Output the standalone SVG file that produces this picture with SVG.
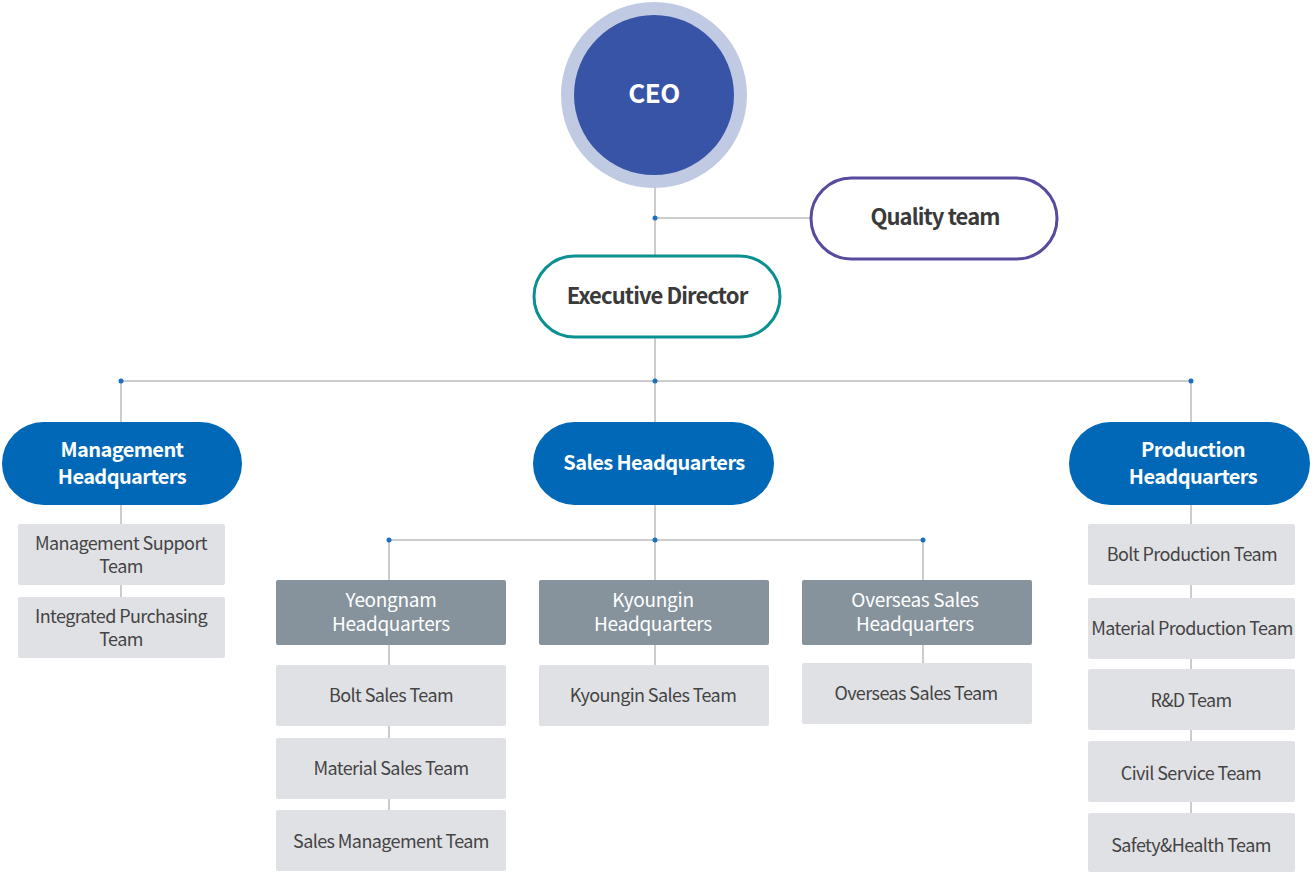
<svg xmlns="http://www.w3.org/2000/svg" width="1312" height="872" viewBox="0 0 1312 872">
<style>
text{font-family:"Noto Sans CJK KR","Noto Sans",sans-serif;text-anchor:middle;letter-spacing:-0.6px}
.ln{stroke:#9a9a9a;stroke-width:1;fill:none}
.dot{fill:#1a6fc0}
.pill{fill:#0068b7}
.pt{fill:#fff;font-size:20px;font-weight:bold}
.gh{fill:#86939c}
.ght{fill:#fff;font-size:19px;letter-spacing:-0.3px}
.sb{fill:#e0e1e5}
.sbt{fill:#444;font-size:18px;letter-spacing:-0.6px}
.ot{fill:#3a3a3a;font-size:22px;font-weight:bold;letter-spacing:-0.9px}
</style>
<rect width="1312" height="872" fill="#fff"/>
<g id="connectors">
<line class="ln" x1="655" y1="180" x2="655" y2="256"/>
<line class="ln" x1="655" y1="218" x2="810" y2="218"/>
<line class="ln" x1="655" y1="337" x2="655" y2="422"/>
<line class="ln" x1="121" y1="381" x2="1191" y2="381"/>
<line class="ln" x1="121" y1="381" x2="121" y2="422"/>
<line class="ln" x1="1191" y1="381" x2="1191" y2="422"/>
<line class="ln" x1="121" y1="505" x2="121" y2="597"/>
<line class="ln" x1="655" y1="505" x2="655" y2="540"/>
<line class="ln" x1="389" y1="540" x2="923" y2="540"/>
<line class="ln" x1="389" y1="540" x2="389" y2="810"/>
<line class="ln" x1="655" y1="540" x2="655" y2="665"/>
<line class="ln" x1="923" y1="540" x2="923" y2="663"/>
<line class="ln" x1="1191" y1="505" x2="1191" y2="813"/>
<circle class="dot" cx="655" cy="218" r="2.5"/>
<circle class="dot" cx="121" cy="381" r="2.5"/>
<circle class="dot" cx="655" cy="381" r="2.5"/>
<circle class="dot" cx="1191" cy="381" r="2.5"/>
<circle class="dot" cx="389" cy="540" r="2.5"/>
<circle class="dot" cx="655" cy="540" r="2.5"/>
<circle class="dot" cx="923" cy="540" r="2.5"/>
</g>
<g id="ceo">
<circle cx="654" cy="95" r="93" fill="#c1cae3"/>
<circle cx="654" cy="95" r="80" fill="#3754a7"/>
<text x="654" y="103" fill="#fff" font-size="26" font-weight="bold">CEO</text>
</g>
<g id="quality">
<rect x="811" y="178" width="246" height="81" rx="40.5" fill="#fff" stroke="#574b9d" stroke-width="3"/>
<text class="ot" x="935" y="225">Quality team</text>
</g>
<g id="executive">
<rect x="534" y="256" width="246" height="81" rx="40.5" fill="#fff" stroke="#0c8f91" stroke-width="3"/>
<text class="ot" x="657" y="304">Executive Director</text>
</g>
<g id="mgmt-hq">
<rect class="pill" x="2" y="422" width="240" height="83" rx="41.5"/>
<text class="pt" x="122" y="457"><tspan x="122">Management</tspan><tspan x="122" dy="27">Headquarters</tspan></text>
</g>
<g id="sales-hq">
<rect class="pill" x="533" y="422" width="241" height="83" rx="41.5"/>
<text class="pt" x="654" y="470">Sales Headquarters</text>
</g>
<g id="prod-hq">
<rect class="pill" x="1069" y="422" width="241" height="83" rx="41.5"/>
<text class="pt" x="1193" y="457"><tspan x="1193">Production</tspan><tspan x="1193" dy="27">Headquarters</tspan></text>
</g>
<g id="mgmt-support">
<rect class="sb" x="18" y="524" width="207" height="61" rx="2"/>
<text class="sbt" x="121" y="550"><tspan x="121">Management Support</tspan><tspan x="121" dy="23">Team</tspan></text>
</g>
<g id="purchasing">
<rect class="sb" x="18" y="597" width="207" height="61" rx="2"/>
<text class="sbt" x="121" y="623"><tspan x="121">Integrated Purchasing</tspan><tspan x="121" dy="23">Team</tspan></text>
</g>
<g id="yeongnam-hq">
<rect class="gh" x="276" y="580" width="230" height="65" rx="2"/>
<text class="ght" x="391" y="607"><tspan x="391">Yeongnam</tspan><tspan x="391" dy="24">Headquarters</tspan></text>
</g>
<g id="kyoungin-hq">
<rect class="gh" x="539" y="580" width="230" height="65" rx="2"/>
<text class="ght" x="653" y="607"><tspan x="653">Kyoungin</tspan><tspan x="653" dy="24">Headquarters</tspan></text>
</g>
<g id="overseas-hq">
<rect class="gh" x="802" y="580" width="230" height="65" rx="2"/>
<text class="ght" x="915" y="607"><tspan x="915">Overseas Sales</tspan><tspan x="915" dy="24">Headquarters</tspan></text>
</g>
<g id="bolt-sales">
<rect class="sb" x="276" y="665" width="230" height="61" rx="2"/>
<text class="sbt" x="391" y="702">Bolt Sales Team</text>
</g>
<g id="material-sales">
<rect class="sb" x="276" y="738" width="230" height="61" rx="2"/>
<text class="sbt" x="391" y="775">Material Sales Team</text>
</g>
<g id="sales-mgmt">
<rect class="sb" x="276" y="810" width="230" height="61" rx="2"/>
<text class="sbt" x="391" y="848">Sales Management Team</text>
</g>
<g id="kyoungin-sales">
<rect class="sb" x="539" y="665" width="230" height="61" rx="2"/>
<text class="sbt" x="653" y="702">Kyoungin Sales Team</text>
</g>
<g id="overseas-sales">
<rect class="sb" x="802" y="663" width="230" height="61" rx="2"/>
<text class="sbt" x="916" y="700">Overseas Sales Team</text>
</g>
<g id="bolt-prod">
<rect class="sb" x="1088" y="524" width="207" height="61" rx="2"/>
<text class="sbt" x="1192" y="561">Bolt Production Team</text>
</g>
<g id="material-prod">
<rect class="sb" x="1088" y="598" width="207" height="61" rx="2"/>
<text class="sbt" x="1192" y="635">Material Production Team</text>
</g>
<g id="rnd">
<rect class="sb" x="1088" y="669" width="207" height="61" rx="2"/>
<text class="sbt" x="1191" y="707">R&amp;D Team</text>
</g>
<g id="civil">
<rect class="sb" x="1088" y="741" width="207" height="61" rx="2"/>
<text class="sbt" x="1191" y="780">Civil Service Team</text>
</g>
<g id="safety">
<rect class="sb" x="1088" y="813" width="207" height="59" rx="2"/>
<text class="sbt" x="1191" y="852">Safety&amp;Health Team</text>
</g>
</svg>
